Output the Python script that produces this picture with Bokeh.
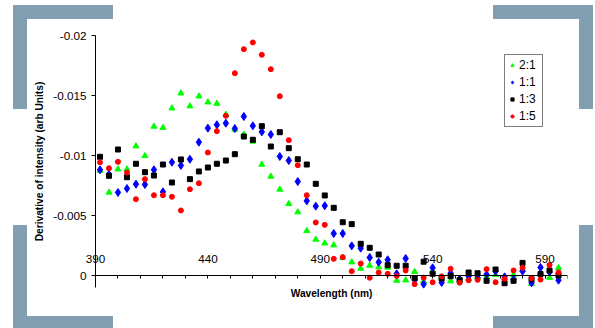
from bokeh.plotting import figure
from bokeh.models import Range1d, FixedTicker, LinearAxis
from bokeh.embed import file_html
from bokeh.resources import INLINE

# ---------------- data ----------------
wavelength = [392, 396, 400, 404, 408, 412, 416, 420, 424, 428, 432, 436, 440,
              444, 448, 452, 456, 460, 464, 468, 472, 476, 480, 484, 488, 492,
              496, 500, 504, 508, 512, 516, 520, 524, 528, 532, 536, 540, 544,
              548, 552, 556, 560, 564, 568, 572, 576, 580, 584, 588, 592, 596]

# derivative values, in units of 1e-3
ratio_2_1 = [-8.75, -6.92, -8.86, -8.86, -10.78, -9.97, -12.42, -12.31, -13.94,
             -15.19, -14.11, -14.94, -14.44, -14.33, -13.42, -12.17, -11.75,
             -11.17, -9.25, -8.25, -7.17, -5.97, -5.28, -3.72, -3.00, -2.69,
             -2.53, -1.50, -1.11, -0.58, -0.83, -0.69, -0.67, 0.42, 0.39, -0.31,
             0.47, -0.36, 0.10, 0.47, 0.40, 0.25, 0.14, 0.11, -0.06, 0.20, -0.06,
             -0.50, 0.69, -0.22, 0.17, -0.64]
ratio_1_1 = [-8.81, -8.42, -6.92, -7.25, -7.61, -7.58, -8.81, -6.97, -9.44,
             -9.17, -9.69, -11.11, -12.28, -12.56, -12.69, -12.25, -13.25,
             -12.47, -11.97, -11.75, -9.92, -9.58, -7.83, -6.22, -5.78, -5.81,
             -3.50, -3.50, -2.47, -2.28, -1.50, -1.11, -1.31, -0.14, -1.42, 0.36,
             0.72, -0.64, 0.58, -0.19, 0.30, 0.06, 0.19, -0.08, -0.36, 0.11, 0.33,
             -0.36, 0.61, -0.67, -0.30, 0.39]
ratio_1_3 = [-9.89, -8.31, -10.50, -8.19, -9.31, -8.61, -8.33, -9.25, -7.75,
             -9.67, -8.03, -8.67, -9.00, -9.31, -9.58, -10.11, -11.58, -11.31,
             -12.44, -10.75, -11.94, -10.61, -9.69, -9.25, -7.64, -6.67, -5.64,
             -4.44, -4.28, -2.64, -2.31, -1.75, -0.86, -0.81, -0.81, 0.22, -1.15,
             -0.14, 0.25, 0.06, 0.38, -0.25, -0.19, 0.44, -0.50, 0.64, 0.44,
             -1.05, 0.31, -0.12, -0.42, 0.00]
ratio_1_5 = [-9.44, -8.94, -9.47, -8.58, -6.36, -8.03, -6.69, -6.69, -6.56,
             -5.42, -7.19, -7.69, -10.25, -12.03, -13.31, -16.86, -18.86, -19.42,
             -18.39, -17.19, -14.94, -11.28, -9.19, -6.69, -4.42, -4.22, -1.39,
             -1.53, -0.36, -1.00, 0.19, -0.25, -0.14, 0.03, -0.42, 0.72, 0.18,
             0.56, 0.08, -0.56, 0.60, 0.40, 0.36, -0.53, 0.56, 0.28, -0.42, -0.64,
             0.22, 0.34, -0.88, -0.26]
UNIT = 1e-3

series_names = ["2:1", "1:1", "1:3", "1:5"]
series_values = [ratio_2_1, ratio_1_1, ratio_1_3, ratio_1_5]

x_min, x_max = 390, 600
y_min, y_max = -0.02, 0.001
x_ticks = [390, 400, 410, 420, 430, 440, 450, 460, 470, 480, 490, 500, 510,
           520, 530, 540, 550, 560, 570, 580, 590, 600]
x_label_ticks = [390, 440, 490, 540, 590]
y_ticks = [-0.02, -0.015, -0.01, -0.005, 0]
y_tick_labels = ["-0.02", "-0.015", "-0.01", "-0.005", "0"]

# ---------------- layout / styles ----------------
FONT = "Liberation Sans"
markers = ["triangle", "diamond", "square", "circle"]
colors = ["#00ff00", "#0000ff", "#000000", "#ff0000"]
sizes = [6, 8, 5, 5]
BRACKET = "#819fb0"

W, H = 595, 328
AX_LEFT, AX_RIGHT, AX_TOP, AX_BOTTOM = 95, 567, 35, 287     # axis box in px
FRAME_LEFT, FRAME_TOP, FRAME_BOTTOM = 28, 22, 310           # drawing frame in px
px_x = (AX_RIGHT - AX_LEFT) / (x_max - x_min)
px_y = (AX_BOTTOM - AX_TOP) / (y_max - y_min)
x_start = x_min - (AX_LEFT - FRAME_LEFT) / px_x
y_start = y_max + (FRAME_BOTTOM - AX_BOTTOM) / px_y
y_end = y_min - (AX_TOP - FRAME_TOP) / px_y
X_LABEL_LEVEL = -0.00175   # x tick labels sit just above the axis line

# decorative corner brackets: (left, top, width, height) in page pixels
brackets = [
    (13, 5, 100, 14), (13, 5, 14, 104),
    (13, 225, 14, 103), (13, 316, 100, 12),
    (493, 5, 100, 14), (579, 5, 14, 104),
    (579, 225, 14, 103), (493, 316, 100, 12),
]
bg_css = {
    "background-color": "white",
    "background-image": ", ".join([f"linear-gradient({BRACKET}, {BRACKET})"] * len(brackets)),
    "background-size": ", ".join(f"{w}px {h}px" for _, _, w, h in brackets),
    "background-position": ", ".join(f"{l}px {t}px" for l, t, _, _ in brackets),
    "background-repeat": "no-repeat",
}

p = figure(width=W, height=H, output_backend="svg", toolbar_location=None,
           x_range=Range1d(x_start, x_max), y_range=Range1d(y_start, y_end),
           min_border_left=FRAME_LEFT, min_border_right=W - AX_RIGHT,
           min_border_top=FRAME_TOP, min_border_bottom=H - FRAME_BOTTOM,
           styles=bg_css)
p.outline_line_color = None
p.xgrid.grid_line_color = None
p.ygrid.grid_line_color = None
p.background_fill_color = None
p.border_fill_color = None

for name, vals, m, c, s in zip(series_names, series_values, markers, colors, sizes):
    p.scatter(wavelength, [v * UNIT for v in vals], marker=m, size=s,
              fill_color=c, line_color=c, legend_label=name)

# x axis crossing at y = 0 (tick marks + title)
xa = p.xaxis[0]
xa.fixed_location = 0
xa.bounds = (x_min, x_max)
xa.ticker = FixedTicker(ticks=[], minor_ticks=x_ticks)
xa.major_tick_in = 0
xa.major_tick_out = 3
xa.major_label_standoff = 0
xa.minor_tick_in = 0
xa.minor_tick_out = 3
xa.minor_tick_line_color = "black"
xa.axis_line_color = "black"
xa.axis_label = "Wavelength (nm)"
xa.axis_label_text_font = FONT
xa.axis_label_text_font_style = "bold"
xa.axis_label_text_font_size = "10.2px"
xa.axis_label_text_color = "black"
xa.axis_label_standoff = 9

# x tick labels, just above the axis line
xl = LinearAxis(fixed_location=X_LABEL_LEVEL, bounds=(x_min, x_max),
                ticker=FixedTicker(ticks=x_label_ticks),
                axis_line_color=None, major_tick_line_color=None,
                minor_tick_line_color=None, major_tick_in=0, major_tick_out=0,
                major_label_standoff=0, major_label_text_font=FONT,
                major_label_text_font_size="11.7px", major_label_text_color="black")
p.add_layout(xl, "below")

# y axis crossing at x = 390
ya = p.yaxis[0]
ya.fixed_location = x_min
ya.bounds = (y_min, y_max)
ya.ticker = FixedTicker(ticks=y_ticks)
ya.major_label_overrides = {t: s for t, s in zip(y_ticks, y_tick_labels)}
ya.major_tick_in = 0
ya.major_tick_out = 4
ya.minor_tick_line_color = None
ya.major_label_standoff = 5
ya.major_label_text_font = FONT
ya.major_label_text_font_size = "11.7px"
ya.major_label_text_color = "black"
ya.axis_line_color = "black"
ya.major_tick_line_color = "black"
ya.axis_label = "Derivative of intensity (arb Units)"
ya.axis_label_text_font = FONT
ya.axis_label_text_font_style = "bold"
ya.axis_label_text_font_size = "10.2px"
ya.axis_label_text_color = "black"
ya.axis_label_standoff = 5

lg = p.legend[0]
lg.location = (504 - FRAME_LEFT, FRAME_BOTTOM - 127)
lg.border_line_color = "black"
lg.border_line_width = 1
lg.background_fill_color = "white"
lg.background_fill_alpha = 1
lg.padding = 3
lg.spacing = 3
lg.glyph_height = 14
lg.label_height = 14
lg.glyph_width = 8
lg.label_standoff = 3
lg.margin = 0
lg.label_text_font = FONT
lg.label_text_font_size = "12px"
lg.label_text_color = "black"

open("out.html", "w").write(file_html(p, INLINE))
